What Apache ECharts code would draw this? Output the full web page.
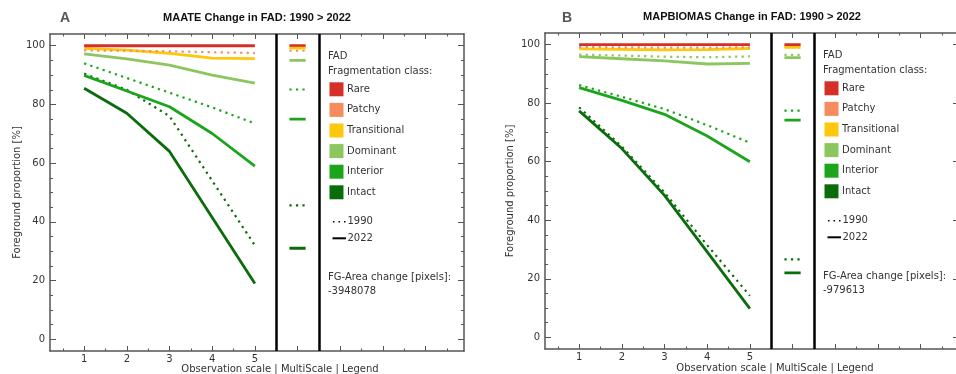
<!DOCTYPE html>
<html>
<head>
<meta charset="utf-8">
<script src="https://cdn.jsdelivr.net/npm/echarts@6/dist/echarts.min.js"></script>
<style>
  html, body { margin: 0; background: #fff; }
  #chart { width: 956px; height: 374px; }
</style>
</head>
<body>
<div id="chart"></div>
<script>
// observation scales on the x axis
const scales = [1, 2, 3, 4, 5]
const years = ['1990', '2022']
const classes = ['Rare', 'Patchy', 'Transitional', 'Dominant', 'Interior', 'Intact']
const classColors = ['#d62f27', '#f68b5b', '#fdc70c', '#8cc65e', '#1ba51b', '#0b6c0b']
const yTicks = [0, 20, 40, 60, 80, 100]

// MAATE (panel A)
const maateRare2022 = [100, 100, 100, 100, 100]
const maatePatchy1990 = [98.4, 98.3, 98.1, 97.8, 97.5]
const maateTransitional2022 = [99.1, 98.5, 97.4, 95.8, 95.6]
const maateDominant2022 = [97.2, 95.5, 93.4, 90.0, 87.3]
const maateInterior1990 = [94.0, 89.0, 84.0, 79.0, 73.5]
const maateInterior2022 = [89.9, 84.6, 79.2, 70.1, 59.0]
const maateIntact1990 = [90.5, 85.0, 76.0, 54.0, 32.0]
const maateIntact2022 = [85.5, 77.0, 64.0, 41.5, 19.0]
// multiscale values, in class order
const maateMulti1990 = [null, 98.3, null, null, 85.1, 45.6]
const maateMulti2022 = [100, null, 99.2, 95.0, 75.0, 31.0]
const maateChange = '-3948078'

// MAPBIOMAS (panel B)
const mapbRare2022 = [100, 100, 100, 100, 100]
const mapbPatchy1990 = [99.2, 99.1, 99.0, 99.0, 99.1]
const mapbTransitional2022 = [98.6, 98.4, 98.2, 98.3, 98.7]
const mapbDominant1990 = [96.6, 96.3, 95.9, 95.7, 96.0]
const mapbDominant2022 = [95.9, 95.2, 94.5, 93.4, 93.6]
const mapbInterior1990 = [86.2, 82.2, 78.0, 72.5, 66.5]
const mapbInterior2022 = [85.3, 81.0, 76.2, 68.8, 60.0]
const mapbIntact1990 = [78.6, 65.2, 49.5, 31.5, 14.2]
const mapbIntact2022 = [77.4, 64.5, 48.5, 29.2, 9.8]
const mapbMulti1990 = [null, 99.3, null, 96.5, 77.5, 26.6]
const mapbMulti2022 = [100, null, 99.1, 95.6, 74.2, 22.0]
const mapbChange = '-979613'

const panels = [
  {
    letter: 'A', title: 'MAATE Change in FAD: 1990 > 2022',
    left: 50, top: 34, height: 317, letterX: 60,
    lines: [
      ['Intact', '1990', maateIntact1990], ['Intact', '2022', maateIntact2022],
      ['Interior', '1990', maateInterior1990], ['Interior', '2022', maateInterior2022],
      ['Dominant', '2022', maateDominant2022],
      ['Transitional', '2022', maateTransitional2022], ['Patchy', '1990', maatePatchy1990],
      ['Rare', '2022', maateRare2022]
    ],
    multi1990: maateMulti1990, multi2022: maateMulti2022, change: maateChange
  },
  {
    letter: 'B', title: 'MAPBIOMAS Change in FAD: 1990 > 2022',
    left: 545, top: 33, height: 316, letterX: 562,
    lines: [
      ['Intact', '1990', mapbIntact1990], ['Intact', '2022', mapbIntact2022],
      ['Interior', '1990', mapbInterior1990], ['Interior', '2022', mapbInterior2022],
      ['Dominant', '1990', mapbDominant1990], ['Dominant', '2022', mapbDominant2022],
      ['Transitional', '2022', mapbTransitional2022], ['Patchy', '1990', mapbPatchy1990],
      ['Rare', '2022', mapbRare2022]
    ],
    multi1990: mapbMulti1990, multi2022: mapbMulti2022, change: mapbChange
  }
]

const W = 414
const FRAME = '#555'
const TXT = '#333'
const FONT = '"DejaVu Sans", sans-serif'
const xMajor = [1, 2, 3, 4, 5, 6, 7, 8, 9]
const xMinor = xMajor.map(v => v - 0.5).concat([9.5])
const yMinor = []
for (let v = 5; v < 100; v += 5) yMinor.push(v)

function lineStyleFor(cls, year) {
  const color = classColors[classes.indexOf(cls)]
  return year === '1990'
    ? { color: color, width: 2.2, type: [2.2, 4.3] }
    : { color: color, width: 2.8, type: 'solid' }
}

const grids = []
const xAxes = []
const yAxes = []
const series = []
const graphics = []

panels.forEach((p, gi) => {
  grids.push({ left: p.left, top: p.top, width: W, height: p.height, containLabel: false, outerBoundsMode: 'none' })

  const tick = (vals, len) => ({ show: true, inside: true, length: len, customValues: vals, lineStyle: { color: FRAME, width: 1 } })
  const line = { show: true, onZero: false, lineStyle: { color: FRAME, width: 1.5 } }
  const baseX = { type: 'value', gridIndex: gi, min: 0.2, max: 9.9, splitLine: { show: false } }
  xAxes.push(
    Object.assign({}, baseX, { position: 'bottom', axisLine: line, axisTick: tick(xMajor, 5),
      axisLabel: { customValues: scales, color: TXT, fontSize: 10, fontFamily: FONT, margin: 3 } }),
    Object.assign({}, baseX, { position: 'bottom', axisLine: { show: false, onZero: false }, axisTick: tick(xMinor, 2.5), axisLabel: { show: false } }),
    Object.assign({}, baseX, { position: 'top', axisLine: line, axisTick: tick(xMajor, 5), axisLabel: { show: false } }),
    Object.assign({}, baseX, { position: 'top', axisLine: { show: false, onZero: false }, axisTick: tick(xMinor, 2.5), axisLabel: { show: false } })
  )
  const baseY = { type: 'value', gridIndex: gi, min: -4, max: 104, splitLine: { show: false } }
  yAxes.push(
    Object.assign({}, baseY, { position: 'left', axisLine: line, axisTick: tick(yTicks, 6),
      axisLabel: { customValues: yTicks, color: TXT, fontSize: 10, fontFamily: FONT, margin: 5 } }),
    Object.assign({}, baseY, { position: 'left', axisLine: { show: false, onZero: false }, axisTick: tick(yMinor, 3), axisLabel: { show: false } }),
    Object.assign({}, baseY, { position: 'right', axisLine: line, axisTick: tick(yTicks, 6), axisLabel: { show: false } }),
    Object.assign({}, baseY, { position: 'right', axisLine: { show: false, onZero: false }, axisTick: tick(yMinor, 3), axisLabel: { show: false } })
  )
  const xi = gi * 4
  const yi = gi * 4

  // curves over the observation scales
  p.lines.forEach(([cls, year, vals]) => {
    series.push({
      type: 'line', name: cls + ' ' + year, xAxisIndex: xi, yAxisIndex: yi,
      data: scales.map((x, i) => [x, vals[i]]),
      symbol: 'none', silent: true, animation: false,
      lineStyle: lineStyleFor(cls, year)
    })
  })

  // multiscale column at x = 6
  ;[[years[0], p.multi1990], [years[1], p.multi2022]].forEach(([year, vals]) => {
    vals.forEach((v, ci) => {
      if (v == null) return
      series.push({
        type: 'line', xAxisIndex: xi, yAxisIndex: yi,
        data: [[5.81, v], [6.19, v]],
        symbol: 'none', silent: true, animation: false,
        lineStyle: lineStyleFor(classes[ci], year)
      })
    })
  })

  // separators: plot | multiscale | legend
  series.push({
    type: 'line', xAxisIndex: xi, yAxisIndex: yi, data: [], silent: true, animation: false,
    markLine: {
      symbol: 'none', silent: true, animation: false, label: { show: false },
      lineStyle: { color: '#000', width: 2.5, type: 'solid' },
      data: [{ xAxis: 5.5 }, { xAxis: 6.5 }]
    }
  })

  // texts around the panel
  const t = p.top
  graphics.push(
    { type: 'text', x: p.letterX, y: 18, style: { text: p.letter, font: 'bold 14px "Liberation Sans", Arial', fill: '#555', align: 'left', verticalAlign: 'middle' } },
    { type: 'text', x: p.left + W / 2, y: 18 - gi, style: { text: p.title, font: 'bold 11px "Liberation Sans", Arial', fill: '#111', align: 'center', verticalAlign: 'middle' } },
    { type: 'text', x: p.left + 230, y: 369 - gi, style: { text: 'Observation scale | MultiScale | Legend', font: '10px ' + FONT, fill: TXT, align: 'center', verticalAlign: 'middle' } },
    { type: 'text', x: p.left - 33 - gi * 1.3, y: t + p.height / 2, rotation: Math.PI / 2, style: { text: 'Foreground proportion [%]', font: '10px ' + FONT, fill: TXT, align: 'center', verticalAlign: 'middle' } }
  )

  // legend
  const L = p.left + 278
  const txt = (s, x, y) => ({ type: 'text', x: x, y: y, style: { text: s, font: '10px ' + FONT, fill: TXT, align: 'left', verticalAlign: 'middle' } })
  graphics.push(txt('FAD', L, t + 22.7), txt('Fragmentation class:', L, t + 37.3))
  classes.forEach((c, i) => {
    const cy = t + 55.3 + i * 20.6
    graphics.push(
      { type: 'rect', shape: { x: L + 1.5, y: cy - 7, width: 14, height: 14 }, style: { fill: classColors[i] } },
      txt(c, L + 19, cy)
    )
  })
  const y90 = t + 187.7
  const y22 = t + 204.3
  graphics.push(
    { type: 'line', shape: { x1: L + 5, y1: y90, x2: L + 18, y2: y90 }, style: { stroke: '#000', lineWidth: 1.5, lineDash: [1.5, 4] } },
    txt(years[0], L + 19.5, y90),
    { type: 'line', shape: { x1: L + 4.5, y1: y22, x2: L + 18, y2: y22 }, style: { stroke: '#000', lineWidth: 2 } },
    txt(years[1], L + 19.5, y22),
    txt('FG-Area change [pixels]:', L, t + 243),
    txt(p.change, L, t + 257)
  )
})

const chart = echarts.init(document.getElementById('chart'), null, { renderer: 'canvas' })
chart.setOption({
  animation: false,
  grid: grids,
  xAxis: xAxes,
  yAxis: yAxes,
  series: series,
  graphic: { elements: graphics }
})
</script>
</body>
</html>
